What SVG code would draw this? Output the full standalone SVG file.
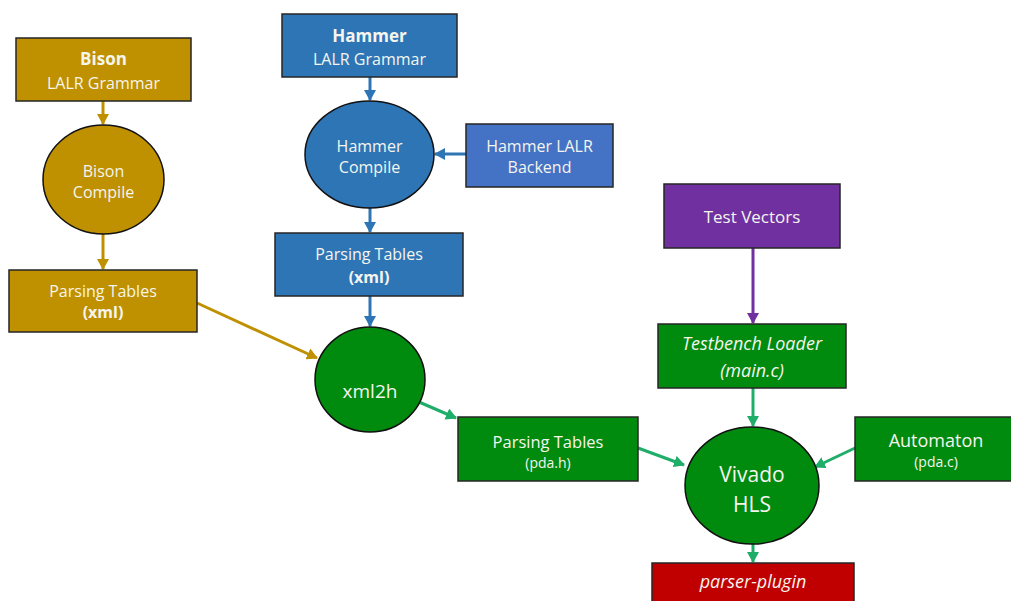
<svg xmlns="http://www.w3.org/2000/svg" width="1011" height="601" viewBox="0 0 1011 601">
<style>
text{font-family:"Open Sans","Liberation Sans",sans-serif;fill:#F5F5EE;text-anchor:middle}
.b{font-weight:bold}
.i{font-style:italic}
.box{stroke:#262626;stroke-width:1.5}
.ell{stroke:#111;stroke-width:1.5}
.gold{fill:#BF9000}
.blue{fill:#2E75B6}
.blue2{fill:#4472C4}
.green{fill:#008A0E}
.purple{fill:#7030A0}
.red{fill:#C00000}
.c{fill:none;stroke-width:3}
</style>
<defs>
<marker id="aGold" markerWidth="12" markerHeight="12" refX="10" refY="6" orient="auto" markerUnits="userSpaceOnUse"><path d="M0,0L11,6L0,12z" fill="#BF9000"/></marker>
<marker id="aBlue" markerWidth="12" markerHeight="12" refX="10" refY="6" orient="auto" markerUnits="userSpaceOnUse"><path d="M0,0L11,6L0,12z" fill="#2E75B6"/></marker>
<marker id="aPurple" markerWidth="12" markerHeight="12" refX="10" refY="6" orient="auto" markerUnits="userSpaceOnUse"><path d="M0,0L11,6L0,12z" fill="#7030A0"/></marker>
<marker id="aGreen" markerWidth="12" markerHeight="12" refX="10" refY="6" orient="auto" markerUnits="userSpaceOnUse"><path d="M0,0L11,6L0,12z" fill="#1FAE6A"/></marker>
</defs>
<rect width="1011" height="601" fill="#FFFFFF"/>
<g id="connectors">
<line class="c" stroke="#BF9000" x1="103" y1="101" x2="103" y2="124" marker-end="url(#aGold)"/>
<line class="c" stroke="#BF9000" x1="103" y1="234" x2="103" y2="269" marker-end="url(#aGold)"/>
<line class="c" stroke="#BF9000" x1="197" y1="303" x2="317" y2="358" marker-end="url(#aGold)"/>
<line class="c" stroke="#2E75B6" x1="370" y1="77" x2="370" y2="100" marker-end="url(#aBlue)"/>
<line class="c" stroke="#2E75B6" x1="466" y1="154" x2="435" y2="154" marker-end="url(#aBlue)"/>
<line class="c" stroke="#2E75B6" x1="370" y1="208" x2="370" y2="232" marker-end="url(#aBlue)"/>
<line class="c" stroke="#2E75B6" x1="370" y1="296" x2="370" y2="326" marker-end="url(#aBlue)"/>
<line class="c" stroke="#7030A0" x1="753" y1="248" x2="753" y2="323" marker-end="url(#aPurple)"/>
<line class="c" stroke="#1FAE6A" x1="419" y1="402" x2="456" y2="418" marker-end="url(#aGreen)"/>
<line class="c" stroke="#1FAE6A" x1="638" y1="448" x2="684" y2="465" marker-end="url(#aGreen)"/>
<line class="c" stroke="#1FAE6A" x1="855" y1="448" x2="815" y2="467" marker-end="url(#aGreen)"/>
<line class="c" stroke="#1FAE6A" x1="753" y1="388" x2="753" y2="426" marker-end="url(#aGreen)"/>
<line class="c" stroke="#1FAE6A" x1="753" y1="544" x2="753" y2="562" marker-end="url(#aGreen)"/>
</g>
<g id="bison-grammar">
<rect class="box gold" x="16" y="38" width="175" height="63"/>
<text class="b" x="103.5" y="65" font-size="17">Bison</text>
<text x="103.5" y="89" font-size="16">LALR Grammar</text>
</g>
<g id="bison-compile">
<ellipse class="ell gold" cx="103.5" cy="179.5" rx="60.5" ry="54.5"/>
<text x="103.5" y="177" font-size="16">Bison</text>
<text x="103.5" y="198" font-size="16">Compile</text>
</g>
<g id="bison-tables">
<rect class="box gold" x="9" y="270" width="188" height="62"/>
<text x="103" y="297" font-size="16">Parsing Tables</text>
<text class="b" x="103" y="318" font-size="16">(xml)</text>
</g>
<g id="hammer-grammar">
<rect class="box blue" x="282" y="14" width="175" height="63"/>
<text class="b" x="369.5" y="42" font-size="17">Hammer</text>
<text x="369.5" y="65" font-size="16">LALR Grammar</text>
</g>
<g id="hammer-compile">
<ellipse class="ell blue" cx="369.5" cy="154.5" rx="64.5" ry="53.5"/>
<text x="369.5" y="152" font-size="16">Hammer</text>
<text x="369.5" y="173" font-size="16">Compile</text>
</g>
<g id="hammer-backend">
<rect class="box blue2" x="466" y="124" width="147" height="63"/>
<text x="539.5" y="152" font-size="16">Hammer LALR</text>
<text x="539.5" y="173" font-size="16">Backend</text>
</g>
<g id="hammer-tables">
<rect class="box blue" x="275" y="233" width="188" height="63"/>
<text x="369" y="260" font-size="16">Parsing Tables</text>
<text class="b" x="369" y="283" font-size="16">(xml)</text>
</g>
<g id="xml2h">
<ellipse class="ell green" cx="370" cy="379.5" rx="55" ry="52.5"/>
<text x="370" y="398" font-size="19">xml2h</text>
</g>
<g id="tables-pda-h">
<rect class="box green" x="458" y="417" width="180" height="64"/>
<text x="548" y="448" font-size="16.5">Parsing Tables</text>
<text x="548" y="468" font-size="14">(pda.h)</text>
</g>
<g id="test-vectors">
<rect class="box purple" x="664" y="184" width="176" height="64"/>
<text x="752" y="223" font-size="17">Test Vectors</text>
</g>
<g id="testbench-loader">
<rect class="box green" x="658" y="324" width="188" height="64"/>
<text class="i" x="752" y="350" font-size="18">Testbench Loader</text>
<text class="i" x="752" y="377" font-size="18">(main.c)</text>
</g>
<g id="vivado-hls">
<ellipse class="ell green" cx="752" cy="485.5" rx="67" ry="58.5"/>
<text x="752" y="482" font-size="21">Vivado</text>
<text x="752" y="512" font-size="21">HLS</text>
</g>
<g id="automaton">
<rect class="box green" x="855" y="417" width="158" height="64"/>
<text x="936" y="447" font-size="18">Automaton</text>
<text x="936" y="467" font-size="14">(pda.c)</text>
</g>
<g id="parser-plugin">
<rect class="box red" x="652" y="563" width="202" height="42"/>
<text class="i" x="753" y="588" font-size="18">parser-plugin</text>
</g>
</svg>
